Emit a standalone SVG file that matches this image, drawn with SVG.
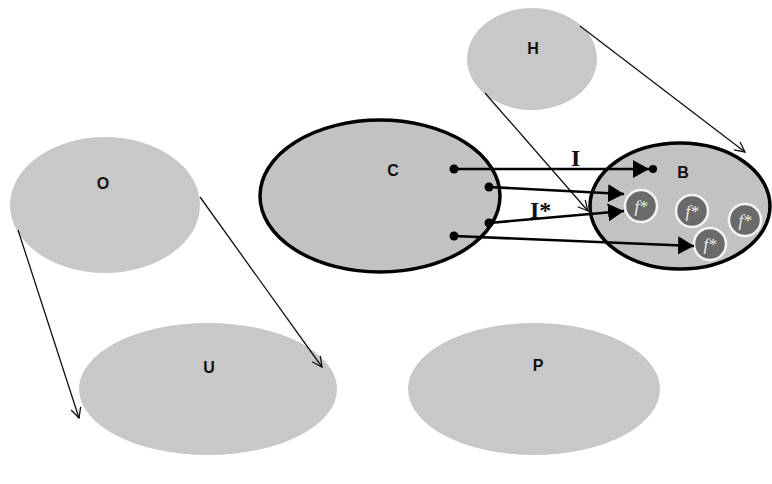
<svg xmlns="http://www.w3.org/2000/svg" width="772" height="484" viewBox="0 0 772 484">
<style>
.soft{fill:#c8c8c8}
.set{fill:#c2c2c2;stroke:#000;stroke-width:3.5}
.lbl{font-family:"Liberation Sans",Arial,sans-serif;font-weight:bold;font-size:16px;fill:#111;text-anchor:middle}
.ser{font-family:"Liberation Serif","Times New Roman",serif;font-weight:bold;font-size:24px;fill:#111}
.thin{stroke:#111;stroke-width:1.3;fill:none}
.thick{stroke:#000;stroke-width:2.6;fill:none}
.fc{fill:#6a6a6a;stroke:#f4f4f4;stroke-width:2.5}
.ft{font-family:"Liberation Serif","Times New Roman",serif;font-style:italic;font-size:17px;fill:#eee;text-anchor:middle}
</style>
<defs>
<marker id="open" viewBox="0 0 12 12" refX="11" refY="6" markerWidth="12" markerHeight="12" markerUnits="userSpaceOnUse" orient="auto">
<path d="M1,1 L11,6 L1,11" fill="none" stroke="#111" stroke-width="1.3"/>
</marker>
<marker id="solid" viewBox="0 0 16 18" refX="16" refY="9" markerWidth="16" markerHeight="18" markerUnits="userSpaceOnUse" orient="auto">
<path d="M0,0 L16,9 L0,18 Z" fill="#000"/>
</marker>
</defs>
<rect width="772" height="484" fill="#fff"/>
<g id="node-O"><ellipse class="soft" cx="105" cy="205" rx="95" ry="68"/><text class="lbl" x="103" y="189">O</text></g>
<g id="node-U"><ellipse class="soft" cx="208" cy="389" rx="129" ry="66"/><text class="lbl" x="209" y="373">U</text></g>
<g id="node-P"><ellipse class="soft" cx="534" cy="389" rx="126" ry="66"/><text class="lbl" x="538" y="371">P</text></g>
<g id="node-H"><ellipse class="soft" cx="532" cy="59" rx="65" ry="51"/><text class="lbl" x="533" y="54">H</text></g>
<g id="node-C"><ellipse class="set" cx="380" cy="196" rx="120" ry="76"/><text class="lbl" x="393" y="176">C</text></g>
<g id="node-B"><ellipse class="set" cx="680" cy="206" rx="90" ry="63"/><text class="lbl" x="683" y="178">B</text>
<circle cx="653" cy="169" r="4" fill="#000"/>
<g id="f1"><circle class="fc" cx="641" cy="206" r="16"/><text class="ft" x="641" y="212">f*</text></g>
<g id="f2"><circle class="fc" cx="692" cy="211" r="16"/><text class="ft" x="692" y="217">f*</text></g>
<g id="f3"><circle class="fc" cx="745" cy="220" r="16"/><text class="ft" x="745" y="226">f*</text></g>
<g id="f4"><circle class="fc" cx="710" cy="244" r="16"/><text class="ft" x="710" y="250">f*</text></g>
</g>
<g id="connectors">
<line class="thin" x1="18" y1="230" x2="79" y2="418" marker-end="url(#open)"/>
<line class="thin" x1="200" y1="197" x2="322" y2="367" marker-end="url(#open)"/>
<line class="thin" x1="580" y1="26" x2="745" y2="152" marker-end="url(#open)"/>
<line class="thin" x1="485" y1="93" x2="588" y2="211" marker-end="url(#open)"/>
<circle cx="454" cy="169" r="4.5" fill="#000"/>
<circle cx="489" cy="187" r="4.5" fill="#000"/>
<circle cx="489" cy="223" r="4.5" fill="#000"/>
<circle cx="454" cy="236" r="4.5" fill="#000"/>
<line class="thick" x1="454" y1="169" x2="649" y2="169" marker-end="url(#solid)"/>
<line class="thick" x1="489" y1="187" x2="624" y2="194" marker-end="url(#solid)"/>
<line class="thick" x1="489" y1="223" x2="624" y2="211" marker-end="url(#solid)"/>
<line class="thick" x1="454" y1="236" x2="694" y2="246" marker-end="url(#solid)"/>
<text class="ser" x="571" y="166">I</text>
<text class="ser" x="530" y="218">I*</text>
</g>
</svg>
